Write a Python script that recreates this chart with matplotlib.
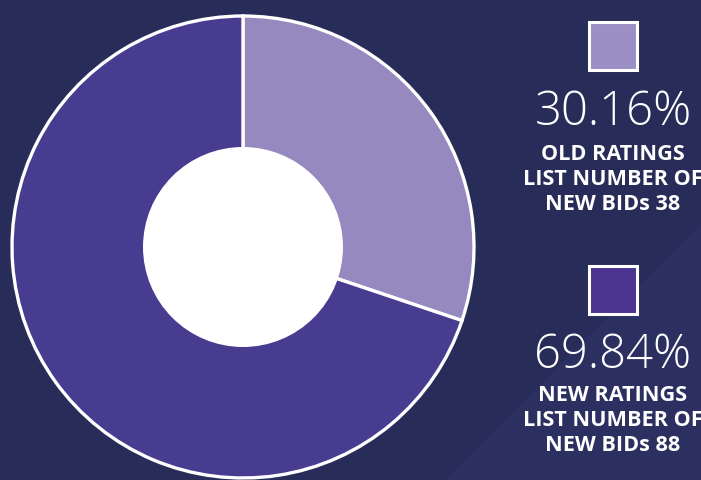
import matplotlib
matplotlib.use('Agg')
from matplotlib import pyplot as plt
from matplotlib.patches import Rectangle, Circle, Polygon

# data
labels = ['OLD RATINGS', 'NEW RATINGS']
bids = [38, 88]
colors = ['#9589c0', '#483c91']
square_colors = ['#9c8fc6', '#4b3590']

BG = '#272c58'
W, H = 701, 481


def py(y):
    # pixel row (top-down) -> data y (bottom-up)
    return H - y


fig = plt.figure(figsize=(W / 100, H / 100), dpi=100)
fig.patch.set_facecolor(BG)
ax = fig.add_axes([0, 0, 1, 1])

# faint diagonal band in the background
ax.add_patch(Polygon([(W, py(225)), (445, py(481)), (W, py(481))],
                     closed=True, facecolor='#2b3061', edgecolor='none', zorder=0))

# donut
cx, cy = 243, py(248)
ax.pie(bids, colors=colors, startangle=90, counterclock=False,
       center=(cx, cy), radius=231, frame=True,
       wedgeprops={'edgecolor': 'white', 'linewidth': 2.4})
ax.add_patch(Circle((cx, cy), 100, facecolor='white', edgecolor='none', zorder=5))
ax.set_xlim(0, W)
ax.set_ylim(0, H)
ax.set_aspect('equal')
ax.axis('off')

# legend blocks on the right
total = sum(bids)
square_tops = [23, 267]
pct_base = [125, 368]
label_base = [160, 401]
for i, (lab, n) in enumerate(zip(labels, bids)):
    top = square_tops[i]
    ax.add_patch(Rectangle((589, py(top + 48)), 48, 48, facecolor=square_colors[i],
                           edgecolor='white', linewidth=2.2, zorder=6))
    pct = n / total * 100
    ax.text(613, py(pct_base[i]), '%.2f%%' % pct, color='white', fontsize=34,
            family='Open Sans', fontweight='light', ha='center', va='baseline')
    lines = [lab, 'LIST NUMBER OF', 'NEW BIDs %d' % n]
    for j, line in enumerate(lines):
        ax.text(613, py(label_base[i] + j * 25), line, color='white', fontsize=15.6,
                family='Open Sans', fontweight='bold', ha='center', va='baseline')

fig.savefig('out.png', dpi=100, facecolor=BG)
